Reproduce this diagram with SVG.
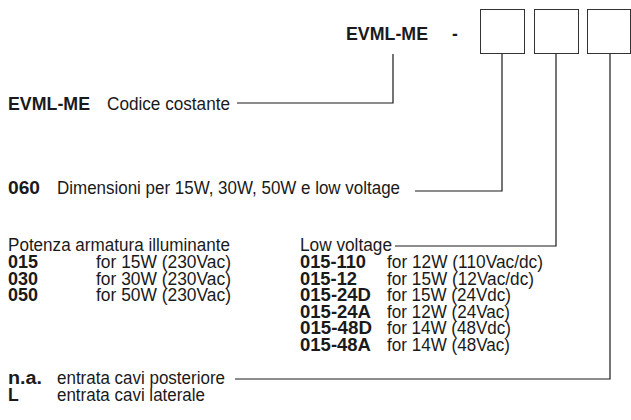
<svg xmlns="http://www.w3.org/2000/svg" width="631" height="420" viewBox="0 0 631 420">
<style>
text{font-family:"Liberation Sans",Arial,sans-serif;font-size:17.5px;fill:#1a1a1a}
.b{font-weight:bold}
.ln{stroke:#1a1a1a;stroke-width:1.2;fill:none}
.box{stroke:#333;stroke-width:1;fill:#fff}
</style>
<rect width="631" height="420" fill="#fff"/>
<g id="title">
<text class="b" x="346" y="40" textLength="82" lengthAdjust="spacingAndGlyphs">EVML-ME</text>
<text class="b" x="452" y="40">-</text>
</g>
<g id="box1"><rect class="box" x="480.5" y="9.5" width="44" height="44"/></g>
<g id="box2"><rect class="box" x="534.5" y="9.5" width="44" height="44"/></g>
<g id="box3"><rect class="box" x="587.5" y="9.5" width="43" height="44"/></g>
<g id="connectors">
<polyline class="ln" points="393,54 393,103 237,103"/>
<polyline class="ln" points="502,54 502,191 415,191"/>
<polyline class="ln" points="556,54 556,246 395,246"/>
<polyline class="ln" points="610,54 610,379 235,379"/>
</g>
<g id="codice">
<text class="b" x="8" y="110" textLength="82" lengthAdjust="spacingAndGlyphs">EVML-ME</text>
<text x="107" y="110" textLength="123" lengthAdjust="spacingAndGlyphs">Codice costante</text>
</g>
<g id="dim">
<text class="b" x="8" y="194" textLength="32" lengthAdjust="spacingAndGlyphs">060</text>
<text x="57" y="194" textLength="343" lengthAdjust="spacingAndGlyphs">Dimensioni per 15W, 30W, 50W e low voltage</text>
</g>
<g id="potenza">
<text x="8" y="251" textLength="222" lengthAdjust="spacingAndGlyphs">Potenza armatura illuminante</text>
<text class="b" x="8" y="268" textLength="30" lengthAdjust="spacingAndGlyphs">015</text>
<text x="96" y="268" textLength="135" lengthAdjust="spacingAndGlyphs">for 15W (230Vac)</text>
<text class="b" x="8" y="284.5" textLength="30" lengthAdjust="spacingAndGlyphs">030</text>
<text x="96" y="284.5" textLength="135" lengthAdjust="spacingAndGlyphs">for 30W (230Vac)</text>
<text class="b" x="8" y="301" textLength="30" lengthAdjust="spacingAndGlyphs">050</text>
<text x="96" y="301" textLength="135" lengthAdjust="spacingAndGlyphs">for 50W (230Vac)</text>
</g>
<g id="lowvoltage">
<text x="300" y="251" textLength="92" lengthAdjust="spacingAndGlyphs">Low voltage</text>
<text class="b" x="300" y="268" textLength="66" lengthAdjust="spacingAndGlyphs">015-110</text>
<text x="387" y="268" textLength="156" lengthAdjust="spacingAndGlyphs">for 12W (110Vac/dc)</text>
<text class="b" x="300" y="284.5" textLength="57" lengthAdjust="spacingAndGlyphs">015-12</text>
<text x="387" y="284.5" textLength="147" lengthAdjust="spacingAndGlyphs">for 15W (12Vac/dc)</text>
<text class="b" x="300" y="301" textLength="71" lengthAdjust="spacingAndGlyphs">015-24D</text>
<text x="387" y="301" textLength="124" lengthAdjust="spacingAndGlyphs">for 15W (24Vdc)</text>
<text class="b" x="300" y="317.5" textLength="71" lengthAdjust="spacingAndGlyphs">015-24A</text>
<text x="387" y="317.5" textLength="123" lengthAdjust="spacingAndGlyphs">for 12W (24Vac)</text>
<text class="b" x="300" y="334" textLength="72" lengthAdjust="spacingAndGlyphs">015-48D</text>
<text x="387" y="334" textLength="124" lengthAdjust="spacingAndGlyphs">for 14W (48Vdc)</text>
<text class="b" x="300" y="350.5" textLength="71" lengthAdjust="spacingAndGlyphs">015-48A</text>
<text x="387" y="350.5" textLength="123" lengthAdjust="spacingAndGlyphs">for 14W (48Vac)</text>
</g>
<g id="entrata">
<text class="b" x="8" y="384" textLength="34" lengthAdjust="spacingAndGlyphs">n.a.</text>
<text x="57" y="384" textLength="168" lengthAdjust="spacingAndGlyphs">entrata cavi posteriore</text>
<text class="b" x="8" y="400.5">L</text>
<text x="57" y="400.5" textLength="148" lengthAdjust="spacingAndGlyphs">entrata cavi laterale</text>
</g>
</svg>
